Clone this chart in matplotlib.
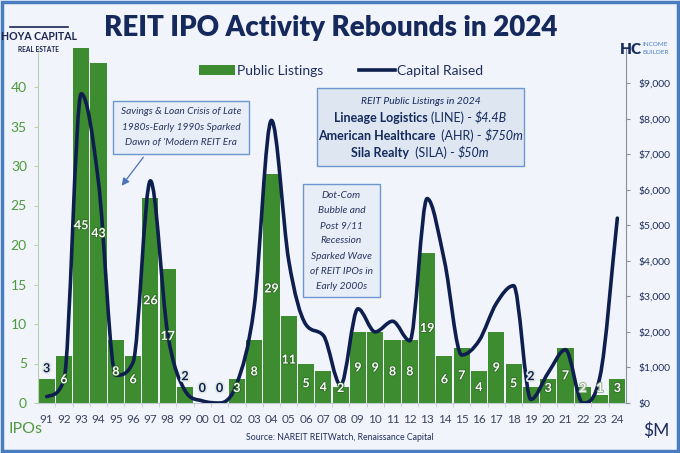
import matplotlib
matplotlib.use("Agg")
import matplotlib.pyplot as plt
import matplotlib.patheffects as pe
from matplotlib.patches import Patch, Rectangle, PathPatch, FancyArrowPatch
from matplotlib.lines import Line2D
from matplotlib.path import Path

years = ["91", "92", "93", "94", "95", "96", "97", "98", "99", "00", "01", "02",
         "03", "04", "05", "06", "07", "08", "09", "10", "11", "12", "13", "14",
         "15", "16", "17", "18", "19", "20", "21", "22", "23", "24"]
listings = [3, 6, 45, 43, 8, 6, 26, 17, 2, 0, 0, 3,
            8, 29, 11, 5, 4, 2, 9, 9, 8, 8, 19, 6,
            7, 4, 9, 5, 2, 3, 7, 2, 1, 3]
capital = [180, 650, 8700, 6200, 780, 1150, 6250, 1950, 350, 60, 0, 550,
           2700, 7950, 4000, 2200, 1900, 500, 2650, 2000, 2300, 1750, 5750, 4000,
           1350, 1750, 2800, 3300, 100, 850, 1500, 0, 750, 5200]
# how each bar label is drawn: in = white inside, out = navy above, faint = pale
label_style = ["out", "in", "in", "in", "in", "in", "in", "in", "out", "out", "out", "in",
               "in", "in", "in", "in", "in", "in", "in", "in", "in", "in", "in", "in",
               "in", "in", "in", "in", "out", "in", "in", "faint", "faint", "in"]

GREEN = "#3d8c30"
NAVY = "#0e1f4f"
BLUE = "#4a7cc0"
BG = "#f1f5fb"

plt.rcParams["font.family"] = ["Lato", "DejaVu Sans"]

fig = plt.figure(figsize=(6.8, 4.53), dpi=100)
fig.patch.set_facecolor(BG)
W, H = 680, 453

ax = fig.add_axes([38 / W, 1 - 403 / H, (626 - 38) / W, (403 - 47.5) / H])
ax.set_facecolor("none")
ax2 = ax.twinx()

x = list(range(len(years)))
ax.bar(x, listings, width=0.93, color=GREEN, zorder=2)
ax.set_xlim(-0.5, len(years) - 0.5)
ax.set_ylim(0, 45)
ax2.set_ylim(0, 10000)

# smoothed line: Bezier segments through the yearly points, with shape-preserving tangents
n = len(capital)
d = [capital[i + 1] - capital[i] for i in range(n - 1)]
m = [d[0]] + [0.0] * (n - 2) + [d[-1]]
for i in range(1, n - 1):
    if d[i - 1] * d[i] > 0:
        m[i] = (d[i - 1] + d[i]) / 2
for i in range(n - 1):
    if d[i] == 0:
        m[i] = m[i + 1] = 0
        continue
    a, b = m[i] / d[i], m[i + 1] / d[i]
    if a * a + b * b > 9:
        t = 3 / (a * a + b * b) ** 0.5
        m[i], m[i + 1] = t * a * d[i], t * b * d[i]
verts = [(x[0], capital[0])]
codes = [Path.MOVETO]
for i in range(n - 1):
    verts += [(x[i] + 1 / 3, capital[i] + m[i] / 3),
              (x[i + 1] - 1 / 3, capital[i + 1] - m[i + 1] / 3),
              (x[i + 1], capital[i + 1])]
    codes += [Path.CURVE4] * 3
ax2.add_patch(PathPatch(Path(verts, codes), facecolor="none", edgecolor=NAVY,
                        lw=2.6, capstyle="round", joinstyle="round", zorder=3))

# bar labels
for xi, v, st in zip(x, listings, label_style):
    if st == "out":
        y = max(v + 1.4, 1.9)
        ax2.text(xi, y, str(v), transform=ax.transData, ha="center", va="center",
                 color=NAVY, fontsize=9, weight="bold", zorder=6,
                 path_effects=[pe.withStroke(linewidth=2.5, foreground="#dfe8e4")])
    elif st == "faint":
        ax2.text(xi, 1.9, str(v), transform=ax.transData, ha="center", va="center",
                 color="#f4f7f2", fontsize=9, weight="bold", zorder=6,
                 path_effects=[pe.withStroke(linewidth=1.5, foreground="#9fb59a")])
    else:
        y = max(v / 2, 1.9)
        ax2.text(xi, y, str(v), transform=ax.transData, ha="center", va="center",
                 color="white", fontsize=9, weight="bold", zorder=6,
                 path_effects=[pe.withStroke(linewidth=1.2, foreground="#2f6a25")])

# axes styling
ax.set_xticks(x)
ax.set_xticklabels(years, fontsize=8.5, color="#3a4260")
ax.set_xticks([i + 0.5 for i in x[:-1]], minor=True)
ax.tick_params(axis="x", which="major", length=0, pad=8)
ax.tick_params(axis="x", which="minor", length=3, color="#c4cad4")
ax.set_yticks(range(0, 45, 5))
ax.tick_params(axis="y", labelsize=10, labelcolor="#4f9a3c", length=3, color="#b8d2ae", pad=5)
for s in ["top", "right"]:
    ax.spines[s].set_visible(False)
ax.spines["left"].set_color("#b8d2ae")
ax.spines["bottom"].set_color("#c4cad4")

ax2.set_yticks(range(0, 10000, 1000))
ax2.set_yticklabels(["${:,}".format(v) for v in range(0, 10000, 1000)])
ax2.tick_params(axis="y", labelsize=7.5, labelcolor="#1f2d5c", length=3, color="#8a909c", pad=6)
for s in ["top", "left", "bottom"]:
    ax2.spines[s].set_visible(False)
ax2.spines["right"].set_color("#8a909c")

# axis unit labels and source
fig.text(9 / W, 1 - 429 / H, "IPOs", color="#4f9a3c", fontsize=11.5, va="center", ha="left")
fig.text(670 / W, 1 - 431 / H, "$M", color="#1f2d5c", fontsize=12.5, va="center", ha="right")
fig.text(340 / W, 1 - 438 / H, "Source: NAREIT REITWatch, Renaissance Capital",
         fontsize=6.3, color="#1f2d5c", ha="center", va="center")

# title
fig.text(331 / W, 1 - 28 / H, "REIT IPO Activity Rebounds in 2024", fontsize=20,
         weight="heavy", color="#15295c", ha="center", va="center")

# legend
handles = [Patch(facecolor=GREEN), Line2D([0], [0], color=NAVY, lw=2.6)]
fig.legend(handles, ["Public Listings", "Capital Raised"], loc="center",
           bbox_to_anchor=(341 / W, 1 - 71 / H), ncol=2, frameon=False,
           fontsize=10, handlelength=2.6, handletextpad=0.15, columnspacing=2.6,
           labelcolor="#1f2d5c")


def box(x0, y0, x1, y1, fc):
    fig.patches.append(Rectangle((x0 / W, 1 - y1 / H), (x1 - x0) / W, (y1 - y0) / H,
                                 transform=fig.transFigure, facecolor=fc,
                                 edgecolor="#6f97cf", lw=1.0, zorder=1))


# annotation 1
box(113, 101, 249, 154, "#e7eef7")
for i, s in enumerate(["Savings & Loan Crisis of Late", "1980s-Early 1990s Sparked",
                       "Dawn of 'Modern REIT Era"]):
    fig.text(181 / W, 1 - (112 + i * 15.5) / H, s, style="italic", fontsize=7.3,
             color="#2a3560", ha="center", va="center", zorder=2)
fig.add_artist(FancyArrowPatch(
    (145 / W, 1 - 155 / H), (120 / W, 1 - 188 / H), transform=fig.transFigure,
    arrowstyle="-|>", mutation_scale=11, color="#4a72b8", lw=0.9))

# annotation 2 (mixed-style lines)
box(317, 88, 524, 166, "#dde6f1")
renderer = fig.canvas.get_renderer()


def rich_line(xc, yp, parts, size):
    texts = []
    for s, weight, style in parts:
        t = fig.text(0, 1 - yp / H, s, fontsize=size, weight=weight, style=style,
                     color="#15295c", ha="left", va="center", zorder=2)
        texts.append(t)
    widths = [t.get_window_extent(renderer).width for t in texts]
    gap = 3.0
    total = sum(widths) + gap * (len(texts) - 1)
    cur = xc - total / 2
    for t, w in zip(texts, widths):
        t.set_x(cur / W)
        cur += w + gap


fig.text(420.5 / W, 1 - 101 / H, "REIT Public Listings in 2024", style="italic",
         fontsize=7.5, color="#15295c", ha="center", va="center", zorder=2)
rich_line(420.5, 118, [("Lineage Logistics", "bold", "normal"), ("(LINE) -", "normal", "normal"),
                       ("$4.4B", "normal", "italic")], 9)
rich_line(420.5, 136, [("American Healthcare", "bold", "normal"), (" (AHR) -", "normal", "normal"),
                       ("$750m", "normal", "italic")], 9)
rich_line(420.5, 153, [("Sila Realty", "bold", "normal"), (" (SILA) -", "normal", "normal"),
                       ("$50m", "normal", "italic")], 9)

# annotation 3
box(303, 184, 380, 297, "#e7eef7")
for i, s in enumerate(["Dot-Com", "Bubble and", "Post 9/11", "Recession", "Sparked Wave",
                       "of REIT IPOs in", "Early 2000s"]):
    fig.text(341.5 / W, 1 - (195 + i * 15.3) / H, s, style="italic", fontsize=7.3,
             color="#2a3560", ha="center", va="center", zorder=2)

# logos (text only)
fig.text(39 / W, 1 - 36 / H, "HOYA CAPITAL", weight="bold", fontsize=7.6,
         color="#1c2450", ha="center", va="center")
fig.text(39 / W, 1 - 49 / H, "REAL ESTATE", weight="bold", fontsize=4.8,
         color="#1c2450", ha="center", va="center")
fig.add_artist(Line2D([10 / W, 68 / W], [1 - 27 / H, 1 - 27 / H], color="#1c2450", lw=1.2))
fig.text(631 / W, 1 - 49 / H, "HC", weight="heavy", fontsize=11,
         color="#1c2f5c", ha="center", va="center")
fig.text(642 / W, 1 - 45 / H, "INCOME", fontsize=4.6, color="#4a7cc0",
         ha="left", va="center")
fig.text(642 / W, 1 - 53 / H, "BUILDER", fontsize=4.6, color="#4a7cc0",
         ha="left", va="center")

# outer frame
fig.patches.append(Rectangle((0.003, 0.004), 0.994, 0.992, transform=fig.transFigure,
                             facecolor="none", edgecolor=BLUE, lw=2.5))

fig.savefig("out.png", dpi=100, facecolor=BG)
